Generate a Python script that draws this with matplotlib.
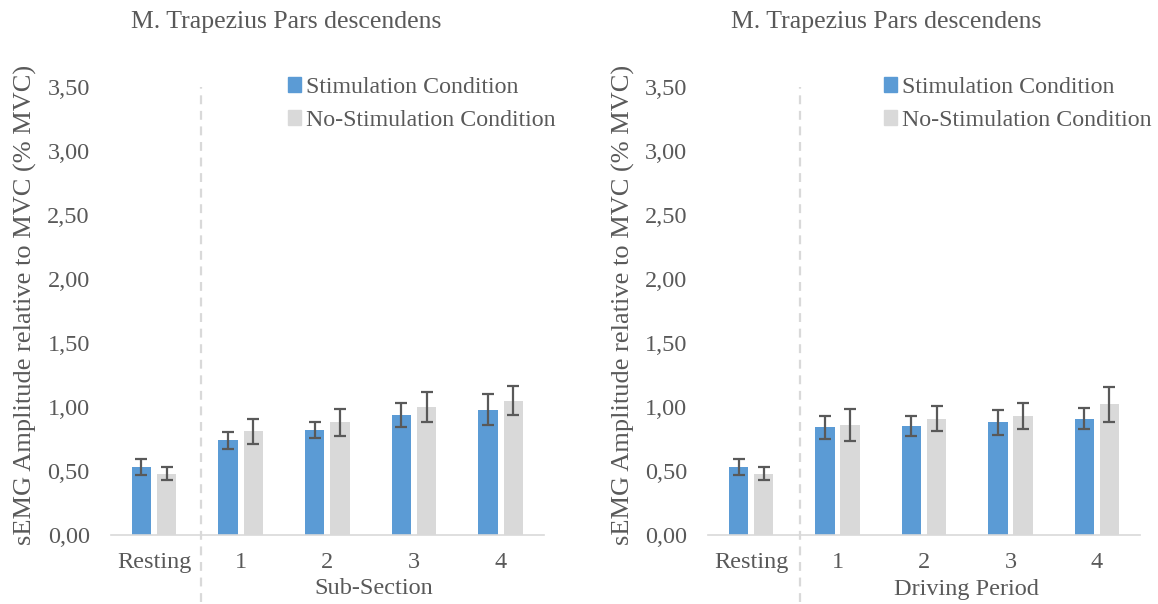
import numpy as np
import matplotlib.pyplot as plt
from matplotlib.ticker import FuncFormatter, MultipleLocator
from matplotlib.patches import Patch

# Data
categories = ['Resting', '1', '2', '3', '4']

sub_stim = [0.53, 0.74, 0.82, 0.94, 0.98]
sub_stim_err = [0.06, 0.065, 0.06, 0.095, 0.12]
sub_nostim = [0.48, 0.81, 0.88, 1.00, 1.05]
sub_nostim_err = [0.05, 0.10, 0.107, 0.12, 0.116]

drv_stim = [0.53, 0.84, 0.85, 0.88, 0.91]
drv_stim_err = [0.06, 0.09, 0.08, 0.10, 0.083]
drv_nostim = [0.48, 0.86, 0.91, 0.93, 1.02]
drv_nostim_err = [0.05, 0.124, 0.10, 0.098, 0.137]

title = 'M. Trapezius Pars descendens'
ylabel = 'sEMG Amplitude relative to MVC (% MVC)'

blue = '#5b9bd5'
grey = '#d9d9d9'
txt = '#595959'

plt.rcParams['font.family'] = ['Liberation Serif', 'DejaVu Serif']

fig = plt.figure(figsize=(11.58, 6.04), dpi=100)
W, H = 1158, 604


def panel(x0, x1, stim, stim_err, nostim, nostim_err, xlabel, title_x, xlabel_x, vline, leg_x):
    ax = fig.add_axes([x0 / W, 1 - 535 / H, (x1 - x0) / W, (535 - 87) / H])
    x = np.arange(len(categories))
    w = 0.223
    off = 0.145
    ek = dict(ecolor='#595959', elinewidth=1.6, capsize=4.3, capthick=1.6)
    ax.bar(x - off, stim, w, yerr=stim_err, color=blue, error_kw=ek, zorder=2)
    ax.bar(x + off, nostim, w, yerr=nostim_err, color=grey, error_kw=ek, zorder=2)
    ax.set_xlim(-0.5, len(categories) - 0.5)
    ax.set_ylim(0, 3.5)
    ax.yaxis.set_major_locator(MultipleLocator(0.5))
    ax.yaxis.set_major_formatter(FuncFormatter(lambda v, p: f'{v:.2f}'.replace('.', ',')))
    ax.set_xticks(x)
    ax.set_xticklabels(categories)
    ax.tick_params(length=0, labelsize=17.5, colors=txt)
    ax.tick_params(axis='x', pad=12)
    ax.tick_params(axis='y', pad=15)
    for s in ['top', 'right', 'left']:
        ax.spines[s].set_visible(False)
    ax.spines['bottom'].set_color(grey)
    ax.spines['bottom'].set_linewidth(1.2)
    ax.axvline(vline, ymin=-0.15, ymax=1, color=grey, ls=(0, (4, 3)), lw=1.6,
               clip_on=False, zorder=1)
    # axis titles and chart title
    fig.text(xlabel_x / W, 1 - 589 / H, xlabel, fontsize=17.5, color=txt,
             ha='center', va='center')
    fig.text((x0 - 85) / W, 1 - 305 / H, ylabel, fontsize=19, color=txt,
             ha='center', va='center', rotation=90)
    fig.text(title_x / W, 1 - 22 / H, title, fontsize=18.5, color=txt,
             ha='center', va='center')
    handles = [Patch(color=blue, label='Stimulation Condition'),
               Patch(color=grey, label='No-Stimulation Condition')]
    leg = fig.legend(handles=handles, loc='upper left', frameon=False,
                     bbox_to_anchor=(leg_x / W, 1 - 77 / H),
                     fontsize=17.2, handlelength=0.55, handleheight=0.55,
                     handletextpad=0.2, labelspacing=0.5, borderaxespad=0,
                     borderpad=0)
    for t in leg.get_texts():
        t.set_color(txt)
    return ax


ax1 = panel(110.7, 544, sub_stim, sub_stim_err, sub_nostim, sub_nostim_err,
            'Sub-Section', 286, 374, 0.54, 288)
ax2 = panel(708, 1140, drv_stim, drv_stim_err, drv_nostim, drv_nostim_err,
            'Driving Period', 886, 966, 0.57, 884)

fig.savefig('out.png', dpi=100)
